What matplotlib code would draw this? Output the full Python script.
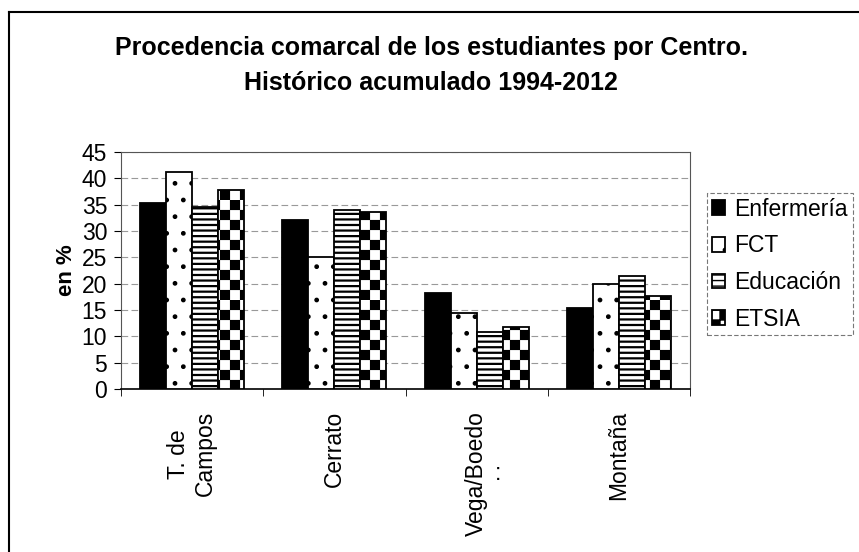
import warnings
import numpy as np
import matplotlib
matplotlib.use('Agg')
import matplotlib.pyplot as plt
from matplotlib import hatch as mhatch
from matplotlib.path import Path
from matplotlib.lines import Line2D

warnings.filterwarnings('ignore')
plt.rcParams['font.family'] = ['Liberation Sans', 'DejaVu Sans']

# data
comarcas = ['T. de\nCampos', 'Cerrato', 'Vega/Boedo', 'Montaña']
centros = ['Enfermería', 'FCT', 'Educación', 'ETSIA']
enfermeria = [35.4, 32.1, 18.3, 15.3]
fct = [41.2, 25.0, 14.5, 19.9]
educacion = [34.5, 33.9, 10.8, 21.5]
etsia = [37.8, 33.6, 11.8, 17.7]
series = [enfermeria, fct, educacion, etsia]
yticks = list(range(0, 50, 5))


# checkerboard hatch ('c'), not built into matplotlib
class CheckerHatch(mhatch.HatchPatternBase):
    def __init__(self, hatch, density):
        self.n = 10 * hatch.count('c')
        self.num_vertices = (self.n * self.n // 2) * 5

    def set_vertices_and_codes(self, vertices, codes):
        s = 1.0 / self.n
        k = 0
        for i in range(self.n):
            for j in range(self.n):
                if (i + j) % 2 == 0:
                    x, y = i * s, j * s
                    vertices[k:k + 5] = [(x, y), (x + s, y), (x + s, y + s), (x, y + s), (x, y)]
                    codes[k] = Path.MOVETO
                    codes[k + 1:k + 4] = Path.LINETO
                    codes[k + 4] = Path.CLOSEPOLY
                    k += 5


mhatch._hatch_types.append(CheckerHatch)

styles = [dict(color='black', hatch=None, hl=1.0),
          dict(color='white', hatch='.', hl=1.0),
          dict(color='white', hatch='---', hl=1.6),
          dict(color='white', hatch='c', hl=0.1)]

fig = plt.figure(figsize=(8.59, 5.52), dpi=100)
ax = fig.add_axes([121 / 859, 1 - 389 / 552, (690 - 121) / 859, (389 - 152) / 552])

x = np.arange(len(comarcas))
w = 0.183
for i, (vals, st) in enumerate(zip(series, styles)):
    ax.bar(x + (i - 1.5) * w, vals, w, color=st['color'], edgecolor='black',
           linewidth=1.3, hatch=st['hatch'], hatch_linewidth=st['hl'],
           label=centros[i], zorder=3)

ax.set_xlim(-0.5, len(comarcas) - 0.5)
ax.set_ylim(0, 45)
ax.set_yticks(yticks)
ax.set_xticks(x)
ax.set_xticklabels(comarcas, rotation=90, ha='center', va='top', fontsize=16.5)
ax.set_xticks(np.arange(len(comarcas) + 1) - 0.5, minor=True)
ax.tick_params(axis='x', which='major', length=0, pad=16)
ax.tick_params(axis='x', which='minor', length=5, direction='out')
ax.tick_params(axis='y', labelsize=16.5, length=5, pad=5)
ax.yaxis.grid(True, color='#999999', linestyle=(0, (6, 3)), linewidth=0.8, zorder=0)
for s in ['top', 'right', 'left']:
    ax.spines[s].set_color('#555555')
    ax.spines[s].set_linestyle((0, (4, 1)))
ax.spines['bottom'].set_linewidth(1.2)
ax.set_ylabel('en %', fontsize=16, fontweight='bold', labelpad=3)

# stray colon printed under the Vega/Boedo label
ax.annotate(':', xy=(2, 0), xytext=(21, -84), textcoords='offset pixels',
            ha='center', va='center', fontsize=16.5)

fig.text(0.502, 0.881, 'Procedencia comarcal de los estudiantes por Centro.\nHistórico acumulado 1994-2012',
         ha='center', va='center', fontsize=18, fontweight='bold', linespacing=1.55)

leg = ax.legend(loc='upper left', bbox_to_anchor=(707 / 859, 1 - 193 / 552),
                bbox_transform=fig.transFigure, fontsize=16.5, handlelength=0.6,
                handleheight=0.6, handletextpad=0.4, labelspacing=0.6,
                borderaxespad=0, borderpad=0.2, fancybox=False, framealpha=1)
leg.get_frame().set_edgecolor('#777777')
leg.get_frame().set_linestyle((0, (4, 2)))
leg.get_frame().set_linewidth(0.8)

# scanned page frame: top and left edges
fig.add_artist(Line2D([9 / 859, 1], [1 - 12 / 552] * 2, color='black', lw=1.5))
fig.add_artist(Line2D([9 / 859] * 2, [0, 1 - 12 / 552], color='black', lw=1.5))

fig.savefig('out.png', dpi=100)
